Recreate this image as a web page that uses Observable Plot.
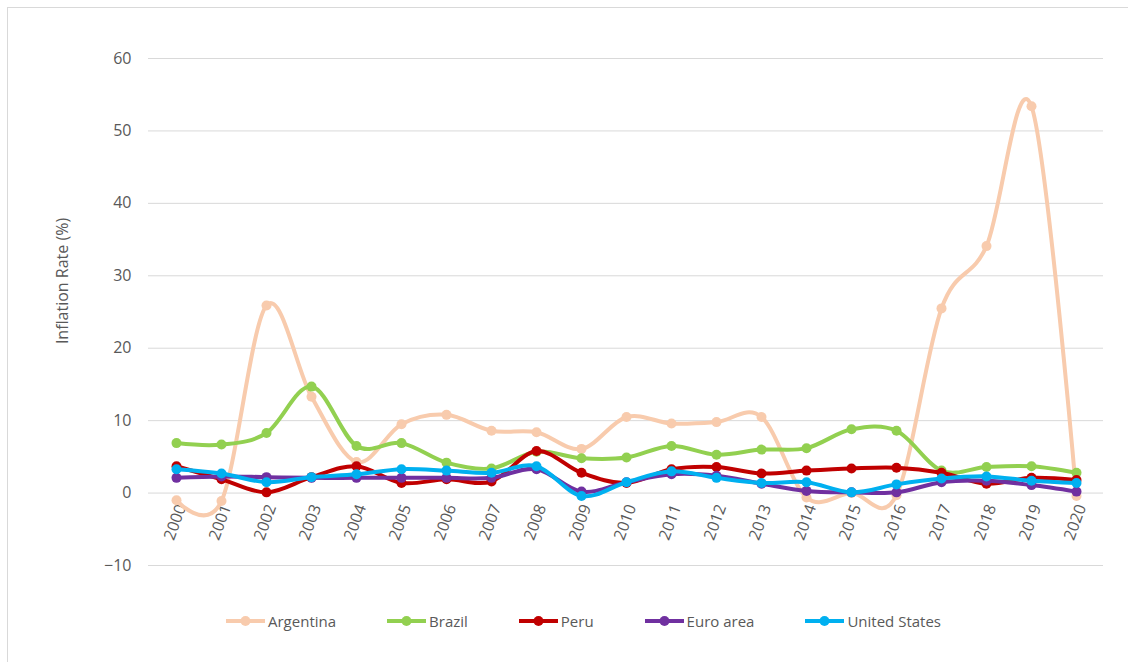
<!DOCTYPE html>
<html><head><meta charset="utf-8">
<script src="https://cdn.jsdelivr.net/npm/d3@7"></script>
<script src="https://cdn.jsdelivr.net/npm/@observablehq/plot@0.6"></script>
<style>
html,body{margin:0;padding:0;background:#fff;overflow:hidden;width:1128px;height:662px;}
#frame{position:absolute;left:7px;top:7px;width:1200px;height:700px;border:1px solid #d9d9d9;box-sizing:border-box;}
#chart{position:absolute;left:0;top:0;}
#ylabel{position:absolute;left:62px;top:281px;transform:translate(-50%,-50%) rotate(-90deg);font:16px "Open Sans";color:#595959;white-space:nowrap;}
#legend{position:absolute;top:609px;left:226px;height:24px;display:flex;align-items:center;font:15px "Open Sans";color:#595959;white-space:nowrap;}
#legend .item{display:flex;align-items:center;margin-right:51px;}
#legend svg{margin-right:3px;}
</style></head><body>
<div id="frame"></div>
<div id="chart"></div>
<div id="ylabel">Inflation Rate (%)</div>
<div id="legend"></div>
<script>
const years = ["2000","2001","2002","2003","2004","2005","2006","2007","2008","2009","2010","2011","2012","2013","2014","2015","2016","2017","2018","2019","2020"];
const argentina = [-1.0,-1.1,25.9,13.3,4.3,9.5,10.8,8.6,8.4,6.1,10.5,9.6,9.8,10.5,-0.6,0.0,-0.3,25.5,34.1,53.4,-0.4];
const brazil    = [6.9,6.7,8.3,14.7,6.5,6.9,4.2,3.4,5.7,4.8,4.9,6.5,5.3,6.0,6.2,8.8,8.6,3.1,3.6,3.7,2.8];
const peru      = [3.7,1.9,0.1,2.2,3.7,1.4,1.9,1.6,5.8,2.8,1.4,3.3,3.6,2.7,3.1,3.4,3.5,2.8,1.3,2.1,1.8];
const euroArea  = [2.1,2.3,2.2,2.1,2.1,2.1,2.1,2.1,3.3,0.2,1.5,2.6,2.4,1.3,0.3,0.1,0.1,1.5,1.7,1.1,0.2];
const unitedStates = [3.3,2.7,1.5,2.2,2.6,3.3,3.1,2.8,3.7,-0.4,1.5,3.0,2.1,1.4,1.5,0.1,1.2,2.0,2.3,1.7,1.4];
const seriesNames = ["Argentina","Brazil","Peru","Euro area","United States"];
const seriesValues = [argentina, brazil, peru, euroArea, unitedStates];
const colors = ["#f8cbad","#92d050","#c00000","#7030a0","#00b0f0"];
const yTicks = [-10,0,10,20,30,40,50,60];

const table = seriesNames.flatMap((s,i)=>years.map((y,j)=>({series:s, year:y, value:seriesValues[i][j]})));

const seriesMarks = seriesNames.flatMap((s,i)=>{
  const d = table.filter(r=>r.series===s);
  return [
    Plot.line(d,{x:"year",y:"value",stroke:colors[i],strokeWidth:4,curve:"cardinal"}),
    Plot.dot(d,{x:"year",y:"value",fill:colors[i],stroke:"none",r:5})
  ];
});

const chart = Plot.plot({
  width:1128, height:600,
  marginLeft:148, marginRight:25, marginTop:58, marginBottom:35,
  x:{type:"point", domain:years, padding:0.5, axis:null},
  y:{domain:[-10,60], axis:null},
  style:{fontFamily:"Open Sans", background:"transparent", color:"#595959"},
  marks:[
    Plot.ruleY(yTicks,{stroke:"#d9d9d9",strokeWidth:1}),
    Plot.axisY({ticks:yTicks, tickSize:0, tickPadding:17, label:null, fontSize:16, fill:"#595959"}),
    Plot.text(years,{x:d=>d, y:d=>0, text:d=>d, rotate:-70, textAnchor:"end", dx:5, dy:12, fontSize:16, fill:"#595959"}),
    ...seriesMarks
  ]
});
document.getElementById("chart").appendChild(chart);

const legend = document.getElementById("legend");
seriesNames.forEach((s,i)=>{
  const item = document.createElement("div");
  item.className="item";
  item.innerHTML = `<svg width="39" height="12"><line x1="0" y1="6" x2="39" y2="6" stroke="${colors[i]}" stroke-width="4"/><circle cx="19.5" cy="6" r="5" fill="${colors[i]}"/></svg><span>${s}</span>`;
  legend.appendChild(item);
});
</script>
</body></html>
